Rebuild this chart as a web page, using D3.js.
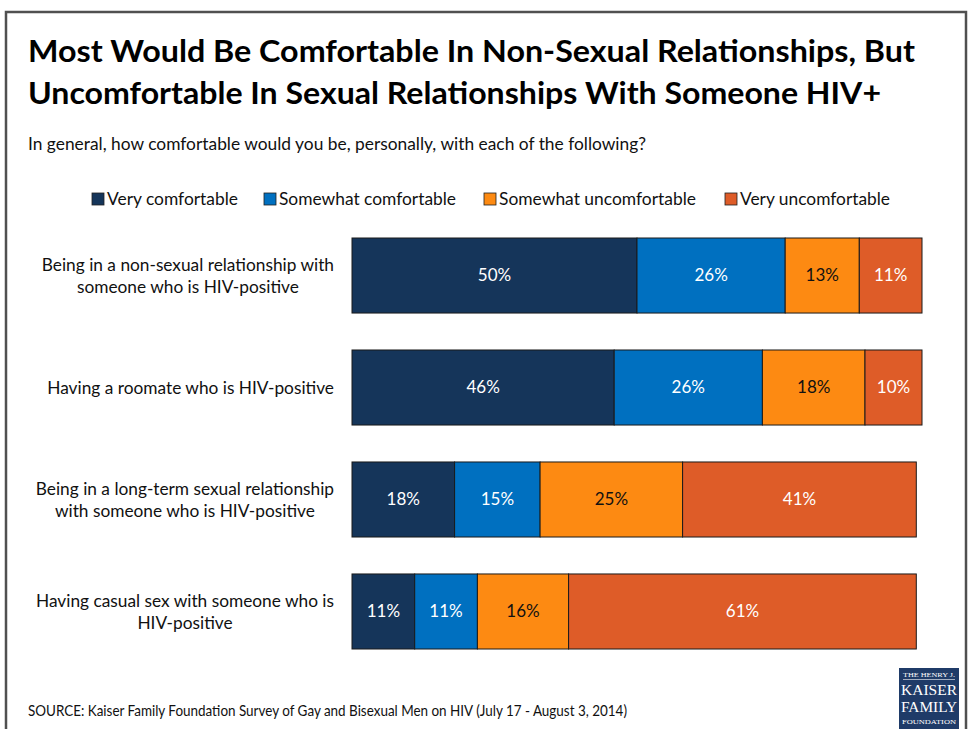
<!DOCTYPE html>
<html>
<head>
<meta charset="utf-8">
<script src="https://cdn.jsdelivr.net/npm/d3@7"></script>
<style>
  html, body { margin: 0; padding: 0; background: #ffffff; }
  svg { display: block; }
</style>
</head>
<body>
<div id="chart"></div>
<script>
// ---------- Data ----------
const titleLines = [
  "Most Would Be Comfortable In Non-Sexual Relationships, But",
  "Uncomfortable In Sexual Relationships With Someone HIV+"
];
const subtitle = "In general, how comfortable would you be, personally, with each of the following?";
const sourceText = "SOURCE: Kaiser Family Foundation Survey of Gay and Bisexual Men on HIV (July 17 - August 3, 2014)";

const categories = [
  "Being in a non-sexual relationship with someone who is HIV-positive",
  "Having a roomate who is HIV-positive",
  "Being in a long-term sexual relationship with someone who is HIV-positive",
  "Having casual sex with someone who is HIV-positive"
];
const categoryLines = [
  ["Being in a non-sexual relationship with", "someone who is HIV-positive"],
  ["Having a roomate who is HIV-positive"],
  ["Being in a long-term sexual relationship", "with someone who is HIV-positive"],
  ["Having casual sex with someone who is", "HIV-positive"]
];
const seriesNames = ["Very comfortable", "Somewhat comfortable", "Somewhat uncomfortable", "Very uncomfortable"];
const veryComfortable       = [50, 46, 18, 11];
const somewhatComfortable   = [26, 26, 15, 11];
const somewhatUncomfortable = [13, 18, 25, 16];
const veryUncomfortable     = [11, 10, 41, 61];
const seriesColors = ["#15355A", "#0070C0", "#FD8A12", "#DE5C28"];
const labelColors  = ["#ffffff", "#ffffff", "#111111", "#ffffff"];

// ---------- Setup ----------
const W = 969, H = 729;
const FONT = "Lato, 'Open Sans', 'DejaVu Sans', sans-serif";
const svg = d3.select("#chart").append("svg").attr("width", W).attr("height", H);

function fit(sel, target) {
  const n = sel.node();
  const w = n.getComputedTextLength();
  if (w > 0) sel.attr("textLength", target).attr("lengthAdjust", "spacingAndGlyphs");
  return sel;
}

// frame
svg.append("rect")
  .attr("x", 6).attr("y", 12).attr("width", 960).attr("height", 760)
  .attr("fill", "none").attr("stroke", "#505050").attr("stroke-width", 2.5);

// title
const titleTargets = [887, 853];
titleLines.forEach((t, i) => {
  const s = svg.append("text")
    .attr("x", 28).attr("y", 62 + i * 42)
    .attr("font-family", FONT).attr("font-weight", 700).attr("font-size", 30)
    .attr("fill", "#000").text(t);
  fit(s, titleTargets[i]);
});

// subtitle
fit(svg.append("text")
  .attr("x", 28).attr("y", 150)
  .attr("font-family", FONT).attr("font-size", 16.5).attr("fill", "#111")
  .text(subtitle), 618);

// legend
const legendX = [92, 264, 484, 725];
const legendW = [131, 177, 197, 150];
seriesNames.forEach((name, i) => {
  svg.append("rect")
    .attr("x", legendX[i]).attr("y", 193).attr("width", 12).attr("height", 12)
    .attr("fill", seriesColors[i]).attr("stroke", "#222").attr("stroke-width", 0.8);
  fit(svg.append("text")
    .attr("x", legendX[i] + 15).attr("y", 205)
    .attr("font-family", FONT).attr("font-size", 17).attr("fill", "#111")
    .text(name), legendW[i]);
});

// scales
const x = d3.scaleLinear().domain([0, 100]).range([352, 922]);
const y = d3.scaleBand().domain(categories).range([238, 649]).paddingInner(0.33).paddingOuter(0);

const seriesValues = [veryComfortable, somewhatComfortable, somewhatUncomfortable, veryUncomfortable];
const rows = categories.map((c, i) => {
  const r = { category: c };
  seriesNames.forEach((s, j) => r[s] = seriesValues[j][i]);
  return r;
});
const stacked = d3.stack().keys(seriesNames)(rows);

const layers = svg.append("g").selectAll("g").data(stacked).join("g")
  .attr("fill", (d, i) => seriesColors[i]);

layers.selectAll("rect").data(d => d).join("rect")
  .attr("x", d => x(d[0]))
  .attr("y", d => y(d.data.category))
  .attr("width", d => x(d[1]) - x(d[0]))
  .attr("height", y.bandwidth())
  .attr("stroke", "#1a1a1a").attr("stroke-width", 1);

// value labels
stacked.forEach((layer, i) => {
  svg.append("g").selectAll("text").data(layer).join("text")
    .attr("x", d => (x(d[0]) + x(d[1])) / 2)
    .attr("y", d => y(d.data.category) + y.bandwidth() / 2)
    .attr("dy", "0.35em")
    .attr("text-anchor", "middle")
    .attr("font-family", FONT).attr("font-size", 17)
    .attr("fill", labelColors[i])
    .text(d => (d[1] - d[0]) + "%");
});

// category labels
const labelRight = 334;
const lineH = 22;
categories.forEach((c, i) => {
  const lines = categoryLines[i];
  const g = svg.append("g");
  const texts = lines.map((l, k) => g.append("text")
    .attr("font-family", FONT).attr("font-size", 17.3).attr("fill", "#111")
    .attr("text-anchor", "middle").text(l));
  const widths = texts.map(t => t.node().getComputedTextLength());
  const maxW = d3.max(widths);
  const cx = labelRight - maxW / 2;
  const cy = y(c) + y.bandwidth() / 2;
  const top = cy - (lines.length - 1) * lineH / 2;
  texts.forEach((t, k) => t.attr("x", cx).attr("y", top + k * lineH).attr("dy", "0.35em"));
});

// source
fit(svg.append("text")
  .attr("x", 28).attr("y", 716)
  .attr("font-family", FONT).attr("font-size", 15).attr("fill", "#111")
  .text(sourceText), 599);

// logo
const logo = svg.append("g");
logo.append("rect").attr("x", 899).attr("y", 668).attr("width", 60).attr("height", 61).attr("fill", "#1F3B68");
const SERIF = "'Liberation Serif', 'DejaVu Serif', serif";
fit(logo.append("text").attr("x", 903).attr("y", 677).attr("font-family", SERIF).attr("font-size", 7)
  .attr("fill", "#fff").text("THE HENRY J."), 52);
logo.append("line").attr("x1", 903).attr("x2", 955).attr("y1", 679.5).attr("y2", 679.5)
  .attr("stroke", "#fff").attr("stroke-width", 0.6);
fit(logo.append("text").attr("x", 901).attr("y", 695).attr("font-family", SERIF).attr("font-size", 14.5)
  .attr("fill", "#fff").text("KAISER"), 56);
fit(logo.append("text").attr("x", 901).attr("y", 712).attr("font-family", SERIF).attr("font-size", 14.5)
  .attr("fill", "#fff").text("FAMILY"), 56);
fit(logo.append("text").attr("x", 902).attr("y", 723.5).attr("font-family", SERIF).attr("font-size", 7)
  .attr("fill", "#fff").text("FOUNDATION"), 54);
</script>
</body>
</html>
